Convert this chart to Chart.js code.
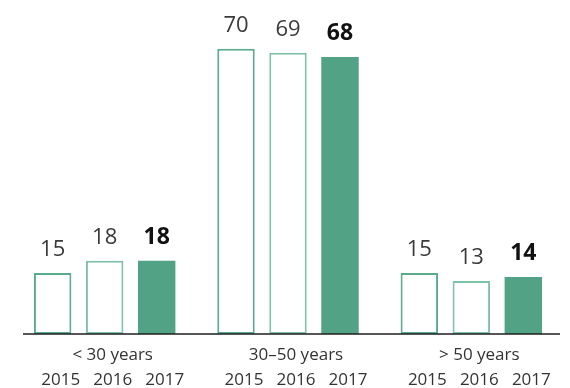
<!DOCTYPE html>
<html>
<head>
<meta charset="utf-8">
<script src="https://cdn.jsdelivr.net/npm/chart.js@4.4.0/dist/chart.umd.min.js"></script>
<style>
    html, body { margin: 0; padding: 0; background: #fff; }
    #wrap { width: 570px; height: 388px; position: relative; }
</style>
</head>
<body>
<div id="wrap"><canvas id="myChart"></canvas></div>
<script>
const groups = ['< 30 years', '30\u201350 years', '> 50 years'];
const years = ['2015', '2016', '2017'];
const values2015 = [15, 70, 15];
const values2016 = [18, 69, 13];
const values2017 = [18, 68, 14];

const green = '#52a285';
const font = '"Open Sans", "Noto Sans", sans-serif';

// value labels above bars, years + group names below the axis
const labelPlugin = {
    id: 'labels',
    afterDatasetsDraw(chart) {
        const ctx = chart.ctx;
        const area = chart.chartArea;
        const yZero = chart.scales.y.getPixelForValue(0);

        ctx.save();
        // baseline
        ctx.strokeStyle = '#1e1e1e';
        ctx.lineWidth = 1.5;
        ctx.beginPath();
        ctx.moveTo(area.left + 10, yZero);
        ctx.lineTo(area.right - 3, yZero);
        ctx.stroke();

        ctx.textAlign = 'center';
        ctx.textBaseline = 'alphabetic';
        chart.data.datasets.forEach((ds, i) => {
            const meta = chart.getDatasetMeta(i);
            const bold = i == 2;
            meta.data.forEach((bar, j) => {
                ctx.fillStyle = bold ? '#111111' : '#3a3a3a';
                ctx.font = (bold ? 'bold 23px ' : '22px ') + font;
                ctx.fillText(String(ds.data[j]), bar.x, bar.y - 17);

                ctx.fillStyle = '#333333';
                ctx.font = '17px ' + font;
                ctx.fillText(years[i], bar.x + 8, yZero + 51);
            });
        });

        ctx.fillStyle = '#333333';
        ctx.font = '17px ' + font;
        groups.forEach((g, j) => {
            const x = chart.scales.x.getPixelForValue(j);
            ctx.fillText(g, x + 8, yZero + 26);
        });
        ctx.restore();
    }
};

const config = {
    type: 'bar',
    data: {
        labels: groups,
        datasets: [{
            label: years[0],
            data: values2015,
            backgroundColor: '#ffffff',
            borderColor: '#5aab8c',
            borderWidth: 2,
            borderSkipped: false,
        }, {
            label: years[1],
            data: values2016,
            backgroundColor: '#ffffff',
            borderColor: '#7fc1a7',
            borderWidth: 2,
            borderSkipped: false,
        }, {
            label: years[2],
            data: values2017,
            backgroundColor: green,
            borderWidth: 0,
        }]
    },
    options: {
        responsive: true,
        maintainAspectRatio: false,
        animation: false,
        categoryPercentage: 0.851,
        barPercentage: 0.72,
        layout: {
            padding: { top: 8, bottom: 54, left: 13, right: 7 }
        },
        plugins: {
            legend: { display: false },
            tooltip: { enabled: false }
        },
        scales: {
            x: { display: false },
            y: { display: false, min: 0, max: 80 }
        }
    },
    plugins: [labelPlugin]
};

const myChart = new Chart(document.getElementById('myChart'), config);
</script>
</body>
</html>
